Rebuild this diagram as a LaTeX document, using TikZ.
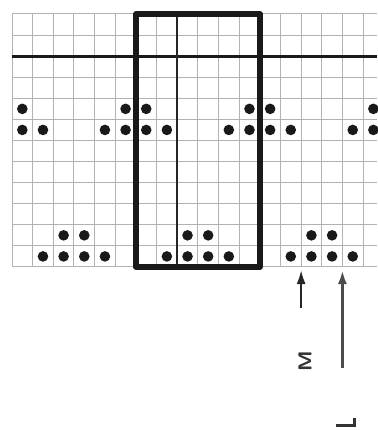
\documentclass[tikz,border=0pt]{standalone}
\usetikzlibrary{arrows.meta}
\begin{document}
\begin{tikzpicture}[x=1pt,y=-1pt,
  gridline/.style={gray!60,line width=1pt},
  heavyline/.style={black!90,line width=3.2pt},
  boxline/.style={black!90,line width=5.5pt,line join=round},
  midline/.style={black!85,line width=2.5pt},
  dotfill/.style={fill=black!90},
  uparrow/.style={-{Latex[length=14pt,width=9pt]},black!85},
  marker/.style={font=\sffamily\bfseries\fontsize{21}{21}\selectfont,text=black!80,inner sep=0pt}]
\useasboundingbox (0,0) rectangle (377,430);
\fill[white] (0,0) rectangle (377,430);
\def\xo{12}\def\cw{20.65}\def\yo{14}\def\ch{21.08}
% grid
\foreach \i in {0,...,17}
  \draw[gridline] ({\xo+\cw*\i},\yo) -- ({\xo+\cw*\i},{\yo+12*\ch});
\foreach \j in {0,...,12}
  \draw[gridline] (\xo,{\yo+\ch*\j}) -- (377,{\yo+\ch*\j});
% heavy horizontal line
\draw[heavyline] (\xo,{\yo+2*\ch}) -- (377,{\yo+2*\ch});
% box and inner line
\draw[midline] ({\xo+8*\cw},\yo) -- ({\xo+8*\cw},{\yo+12*\ch});
\draw[boxline] ({\xo+6*\cw},\yo) rectangle ({\xo+12*\cw},{\yo+12*\ch});
% dots
\def\dr{5.3}
\foreach \c in {0,5,6,11,12,17}
  \fill[dotfill] ({\xo+\cw*(\c+0.5)},{\yo+\ch*4.5}) circle (\dr);
\foreach \c in {0,1,4,5,6,7,10,11,12,13,16,17}
  \fill[dotfill] ({\xo+\cw*(\c+0.5)},{\yo+\ch*5.5}) circle (\dr);
\foreach \c in {2,3,8,9,14,15}
  \fill[dotfill] ({\xo+\cw*(\c+0.5)},{\yo+\ch*10.5}) circle (\dr);
\foreach \c in {1,2,3,4,7,8,9,10,13,14,15,16}
  \fill[dotfill] ({\xo+\cw*(\c+0.5)},{\yo+\ch*11.5}) circle (\dr);
% arrows
\coordinate (tipa) at ({\xo+14*\cw},270);
\coordinate (taila) at ({\xo+14*\cw},308);
\coordinate (tipb) at ({\xo+16*\cw},270);
\coordinate (tailb) at ({\xo+16*\cw},368);
\draw[uparrow,line width=2.2pt] (taila) -- (tipa);
\draw[uparrow,line width=2.8pt,black!70] (tailb) -- (tipb);
% label
\node[marker,rotate=90,yscale=0.9] (lab) at (305,361) {M};
% corner mark
\coordinate (ma) at (336,425);
\coordinate (mb) at (354,425);
\coordinate (mc) at (354,418);
\draw[black!80,line width=3pt] (ma) -- (mb) -- (mc);
\end{tikzpicture}
\end{document}
